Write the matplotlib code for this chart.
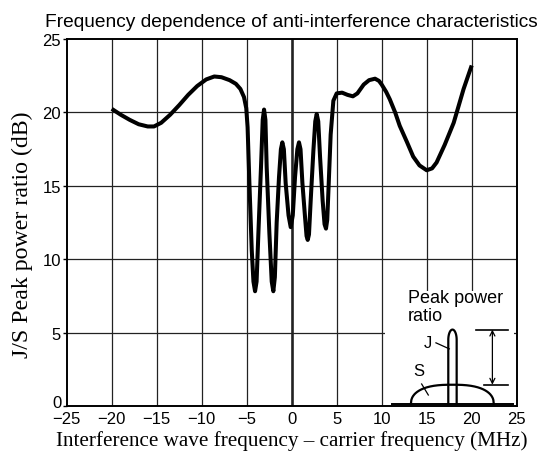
import matplotlib
matplotlib.use("Agg")
import matplotlib.pyplot as plt
import matplotlib.transforms as mtransforms
import numpy as np

# ---- data ----
freq_mhz = [-20, -19, -18, -17, -16, -15.3, -14.5, -13.5, -12.5, -11.5, -10.5, -9.5,
            -8.6, -7.8, -6.9, -6.2, -5.7, -5.3, -5.05, -4.9, -4.7, -4.44, -4.25, -4.07,
            -3.9, -3.7, -3.41, -3.22, -3.07, -2.92, -2.78, -2.48, -2.22, -2.04, -1.87,
            -1.67, -1.41, -1.2, -1.04, -0.87, -0.67, -0.35, -0.11, 0.12, 0.37, 0.63,
            0.81, 0.98, 1.19, 1.48, 1.65, 1.78, 1.92, 2.11, 2.41, 2.62, 2.78, 2.95,
            3.15, 3.44, 3.65, 3.81, 3.95, 4.07, 4.33, 4.63, 5.0, 5.6, 6.2, 6.8, 7.3,
            8.0, 8.6, 9.26, 9.7, 10.0, 10.5, 10.9, 11.5, 12.0, 12.8, 13.5, 14.2, 15.0,
            15.6, 16.1, 17.0, 18.0, 19.1, 20.0]
js_ratio_db = [20.25, 19.85, 19.5, 19.2, 19.05, 19.05, 19.3, 19.85, 20.5, 21.2, 21.8, 22.25,
               22.45, 22.4, 22.2, 21.95, 21.6, 21.05, 20.3, 19.0, 15.2, 10.65, 8.5, 7.84,
               8.5, 11.8, 16.3, 19.5, 20.2, 19.5, 16.3, 11.8, 8.5, 7.84, 8.8,
               12.5, 15.6, 17.5, 17.97, 17.5, 15.2, 13.0, 12.2, 13.0, 15.6, 17.5,
               17.97, 17.5, 15.2, 12.9, 11.6, 11.33, 11.7, 14.0, 17.4, 19.4, 19.9, 19.4,
               17.0, 14.0, 12.4, 12.1, 12.7, 14.5, 18.5, 20.8, 21.3, 21.35, 21.2, 21.1, 21.3,
               21.9, 22.2, 22.3, 22.15, 21.9, 21.4, 20.9, 20.0, 19.1, 18.0, 17.0, 16.4, 16.07,
               16.2, 16.6, 17.8, 19.3, 21.6, 23.2]

x_ticks = [-25, -20, -15, -10, -5, 0, 5, 10, 15, 20, 25]
y_ticks = [0, 5, 10, 15, 20, 25]

title = "Frequency dependence of anti-interference characteristics"
xlabel = "Interference wave frequency \u2013 carrier frequency (MHz)"
ylabel = "J/S Peak power ratio (dB)"

# inset schematic (peak power ratio illustration)
inset_base_y = 0.2
inset_base_x = [11.1, 24.6]
s_center, s_halfwidth, s_top = 17.85, 4.6, 1.48
j_left, j_right, j_top = 17.4, 18.33, 5.23
arrow_x = 22.3

# ---- figure ----
fig = plt.figure(figsize=(5.44, 4.52), dpi=100)
ax = fig.add_axes([0.1226, 0.0985, 0.8272, 0.813])
ax.set_xlim(-25, 25)
ax.set_ylim(0, 25)

sans = "Liberation Sans"
serif = "Liberation Serif"

# grid
for xv in x_ticks[1:-1]:
    ax.axvline(xv, color="#222222", lw=1.9 if xv == 0 else 0.9, zorder=0.5)
for yv in y_ticks[1:-1]:
    ax.axhline(yv, color="#222222", lw=0.9, zorder=0.5)
# white box behind inset drawing
ax.add_patch(plt.Rectangle((10.4, 0.03), 14.3, 7.8, facecolor="white",
                           edgecolor="none", zorder=0.8))

# main curve
ax.plot(freq_mhz, js_ratio_db, color="black", lw=2.9, zorder=3,
        solid_joinstyle="round", solid_capstyle="butt")

# inset: baseline
ax.plot(inset_base_x, [inset_base_y, inset_base_y], color="black", lw=1.4, zorder=2)
# S dome
t = np.linspace(-1, 1, 200)
sx = s_center + s_halfwidth * t
sy = inset_base_y + (s_top - inset_base_y) * np.clip(1 - np.abs(t) ** 2.6, 0, None) ** 0.45
ax.plot(sx, sy, color="black", lw=1.6, zorder=2)
# J peak
jc = (j_left + j_right) / 2
jw = (j_right - j_left) / 2
th = np.linspace(np.pi, 0, 60)
arch_base = j_top - 0.7
jx = np.concatenate([[j_left], jc + jw * np.cos(th), [j_right]])
jy = np.concatenate([[inset_base_y], arch_base + 0.7 * np.sin(th), [inset_base_y]])
ax.plot(jx, jy, color="black", lw=1.6, zorder=2)
# reference lines + double arrow
ax.plot([20.45, 24.07], [j_top, j_top], color="black", lw=1.2, zorder=2)
ax.plot([21.4, 24.07], [s_top, s_top], color="black", lw=1.2, zorder=2)
ax.annotate("", xy=(arrow_x, j_top), xytext=(arrow_x, s_top),
            arrowprops=dict(arrowstyle="<->", lw=0.9, color="black",
                            mutation_scale=9, shrinkA=0, shrinkB=0), zorder=2)
# labels in inset
ax.text(12.9, 7.96, "Peak power\nratio", ha="left", va="top", fontsize=13,
        family=sans, linespacing=1.05, zorder=2)
ax.text(15.14, 4.34, "J", ha="center", va="center", fontsize=12, family=sans, zorder=2)
ax.plot([16.03, 17.51], [4.33, 3.92], color="black", lw=0.9, zorder=2)
ax.text(14.15, 2.45, "S", ha="center", va="center", fontsize=12, family=sans, zorder=2)
ax.plot([14.44, 15.18], [1.53, 0.78], color="black", lw=0.9, zorder=2)

# axes styling
for sp in ax.spines.values():
    sp.set_linewidth(1.4)
    sp.set_color("black")
ax.set_xticks(x_ticks)
ax.set_yticks(y_ticks)
ax.tick_params(axis="x", length=0, pad=3, labelsize=12)
ax.tick_params(axis="y", length=3, width=1, direction="out", pad=1, labelsize=12)
for lab in ax.get_xticklabels() + ax.get_yticklabels():
    lab.set_family(sans)
# lift the "0" y tick label slightly (as in the reference)
ylabs = ax.get_yticklabels()
ylabs[0].set_transform(ylabs[0].get_transform() +
                       mtransforms.ScaledTranslation(0, 4 / 72, fig.dpi_scale_trans))

ax.set_xlabel(xlabel, fontsize=15.2, family=serif, labelpad=3)
fig.text(22 / 544, 1 - 235 / 452, ylabel, rotation=90, ha="center", va="center",
         fontsize=17.2, family=serif)
fig.text(291.7 / 544, 1 - 27 / 452, title, ha="center", va="baseline",
         fontsize=13.8, family=sans)

fig.savefig("out.png", dpi=100)
